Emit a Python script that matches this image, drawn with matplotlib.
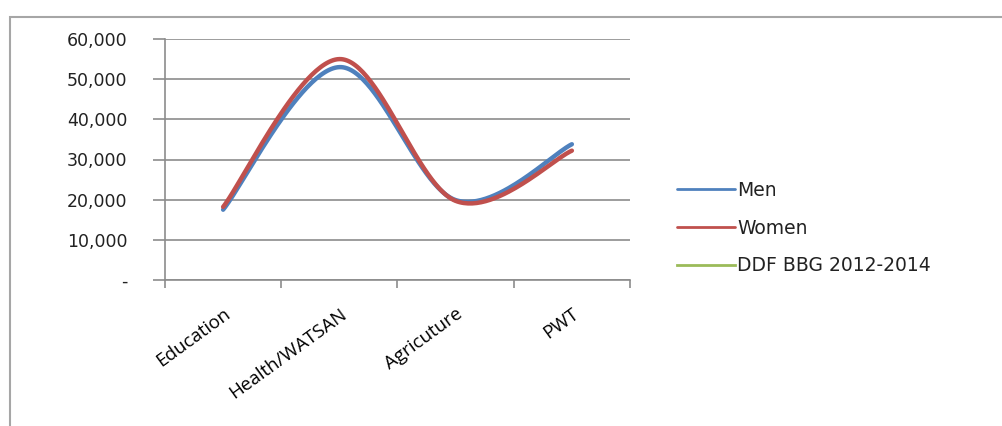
import numpy as np
import matplotlib
matplotlib.use("Agg")
import matplotlib.pyplot as plt
import matplotlib.transforms as mtransforms
from matplotlib.ticker import FuncFormatter

categories = ["Education", "Health/WATSAN", "Agricuture", "PWT"]
men = [17500, 53000, 19900, 33800]
women = [18200, 55000, 19700, 32200]
ddf = [np.nan, np.nan, np.nan, np.nan]  # no visible points in the chart

series = [("Men", men, "#4F81BD"),
          ("Women", women, "#C0504D"),
          ("DDF BBG 2012-2014", ddf, "#9BBB59")]


def smooth(xs, ys, n=60):
    # Excel-style smoothed line: cubic bezier with catmull-rom control points
    xs = np.asarray(xs, float)
    ys = np.asarray(ys, float)
    px = np.concatenate([[xs[0]], xs, [xs[-1]]])
    py = np.concatenate([[ys[0]], ys, [ys[-1]]])
    out_x, out_y = [], []
    t = np.linspace(0, 1, n)
    for i in range(1, len(xs)):
        p0 = (px[i], py[i])
        p3 = (px[i + 1], py[i + 1])
        c1 = (px[i] + (px[i + 1] - px[i - 1]) / 6, py[i] + (py[i + 1] - py[i - 1]) / 6)
        c2 = (px[i + 1] - (px[i + 2] - px[i]) / 6, py[i + 1] - (py[i + 2] - py[i]) / 6)
        bx = (1 - t)**3 * p0[0] + 3 * (1 - t)**2 * t * c1[0] + 3 * (1 - t) * t**2 * c2[0] + t**3 * p3[0]
        by = (1 - t)**3 * p0[1] + 3 * (1 - t)**2 * t * c1[1] + 3 * (1 - t) * t**2 * c2[1] + t**3 * p3[1]
        out_x.extend(bx)
        out_y.extend(by)
    return out_x, out_y


plt.rcParams["font.family"] = "DejaVu Sans"
fig = plt.figure(figsize=(10.03, 4.26), dpi=100)
ax = fig.add_axes([165 / 1003, 1 - 280 / 426, 465 / 1003, 241 / 426])

# outer chart border
border = plt.Rectangle((10 / 1003, -0.1), 1.2, 1 - 17 / 426 + 0.1, transform=fig.transFigure,
                       fill=False, edgecolor="#a6a6a6", linewidth=1.5)
fig.patches.append(border)

x = np.arange(len(categories))
for name, vals, col in series:
    if np.all(np.isnan(vals)):
        ax.plot([], [], color=col, linewidth=2.0, label=name)
        continue
    sx, sy = smooth(x, vals)
    ax.plot(sx, sy, color=col, linewidth=3.2, label=name, solid_capstyle="round")

ax.set_xlim(-0.5, len(categories) - 0.5)
ax.set_ylim(0, 60000)
ax.set_yticks(np.arange(0, 60001, 10000))
ax.yaxis.set_major_formatter(FuncFormatter(lambda v, p: "-" if v == 0 else f"{int(v):,}"))
ax.grid(axis="y", color="#8c8c8c", linewidth=1.2)
ax.set_axisbelow(True)

ax.set_xticks(x)
ax.set_xticklabels(categories, rotation=36, ha="right", va="top", rotation_mode="anchor",
                   fontsize=13.5, family="Open Sans")
shift = mtransforms.ScaledTranslation(-8 / 100, 0, fig.dpi_scale_trans)
for lab in ax.get_xticklabels():
    lab.set_transform(lab.get_transform() + shift)
ax.set_xticks(np.arange(-0.5, len(categories)), minor=True)
ax.tick_params(axis="x", which="major", length=0, pad=18)
ax.tick_params(axis="x", which="minor", length=6, color="#8c8c8c", width=1.2)
ax.tick_params(axis="y", length=9, color="#8c8c8c", width=1.2, pad=18, labelsize=12.5,
               labelcolor="#222222")

for s in ["top", "right"]:
    ax.spines[s].set_visible(False)
for s in ["left", "bottom"]:
    ax.spines[s].set_color("#8c8c8c")
    ax.spines[s].set_linewidth(1.2)

leg = fig.legend(loc="upper left", bbox_to_anchor=(660 / 1003, 1 - 164 / 426), frameon=False,
                 handlelength=3.1, handletextpad=0.1, labelspacing=1.0, fontsize=13.5)
for t in leg.get_texts():
    t.set_color("#222222")
for h in leg.get_lines():
    h.set_linewidth(2.0)

fig.savefig("out.png", dpi=100)
